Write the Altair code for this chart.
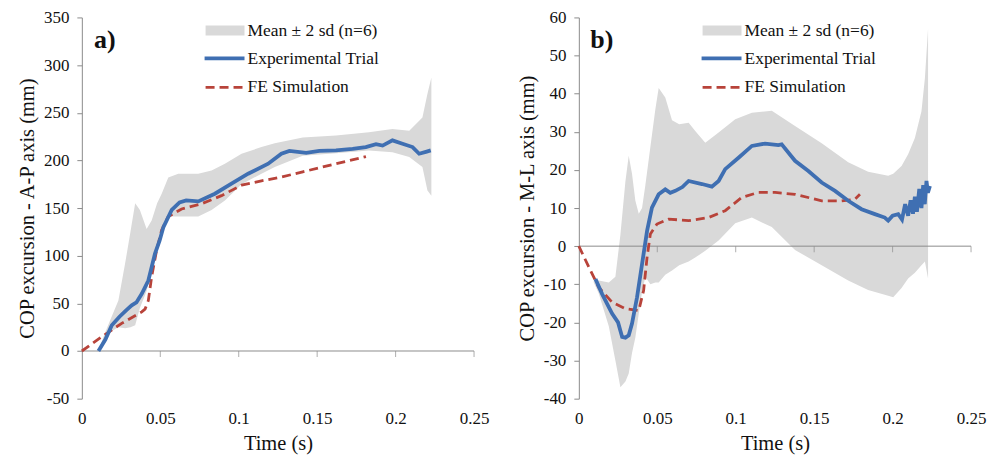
import altair as alt
import pandas as pd

# ---------------- Panel a) A-P axis ----------------
exp_t_ap = [0.0106, 0.0150, 0.0191, 0.0240, 0.0284, 0.0318, 0.0348, 0.0382, 0.0424, 0.0466,
            0.0496, 0.0520, 0.0573, 0.0623, 0.0665, 0.0742, 0.0848, 0.0954, 0.1060, 0.1188,
            0.1272, 0.1323, 0.1430, 0.1514, 0.1620, 0.1726, 0.1810, 0.1875, 0.1917, 0.1980,
            0.2044, 0.2108, 0.2150, 0.2193, 0.2224]
exp_v_ap = [0, 12, 27, 36, 43, 48, 51, 60, 74, 102,
            116, 130, 148, 156, 158, 157, 165, 175.5, 186, 196.5,
            207, 210, 208, 210, 210.5, 212, 214, 217, 215.5, 221,
            217.5, 214, 207, 209, 210.5]

fe_t_ap = [0, 0.0127, 0.0254, 0.0382, 0.0403, 0.0424, 0.0445, 0.0477, 0.0509, 0.0551,
           0.0636, 0.0763, 0.0890, 0.1018, 0.1145, 0.1272, 0.1408, 0.1620, 0.1811]
fe_v_ap = [0, 15, 29, 41, 44, 53, 78, 106, 127, 141,
           149, 154.5, 163, 174, 178.5, 182.5, 188, 196.5, 204]

band_t_ap = [0.0106, 0.0150, 0.0180, 0.0233, 0.0276, 0.0310, 0.0340, 0.0370, 0.0413, 0.0445,
             0.0480, 0.0509, 0.0551, 0.0615, 0.0742, 0.0827, 0.0912, 0.1018, 0.1145, 0.1230,
             0.1408, 0.1620, 0.1830, 0.1980, 0.2087, 0.2171, 0.2203, 0.2228]
band_hi_ap = [1, 20, 32, 53, 92, 125, 155, 148, 128, 137,
              155, 165, 182, 186, 186, 189.5, 196.5, 207, 214, 218,
              224, 226, 229.5, 233, 231, 245, 270, 287]
band_lo_ap = [0, 12, 20, 25, 24, 25, 27, 45, 63, 85,
              105, 120, 141, 141, 141, 148, 158, 175, 186, 193,
              205, 207.5, 210.5, 208.5, 203.5, 193, 168.5, 163]

# ---------------- Panel b) M-L axis ----------------
exp_t_ml = [0.0106, 0.0148, 0.0212, 0.0250, 0.0276, 0.0297, 0.0318, 0.0339, 0.0371, 0.0403,
            0.0435, 0.0466, 0.0509, 0.0551, 0.0583, 0.0615, 0.0660, 0.0700, 0.0785, 0.0848,
            0.0891, 0.0933, 0.1018, 0.1103, 0.1187, 0.1272, 0.1293, 0.1378, 0.1463, 0.1548,
            0.1633, 0.1717, 0.1802, 0.1887, 0.1950, 0.1972, 0.2000, 0.2036, 0.2060, 0.2080,
            0.2099, 0.2115, 0.2130, 0.2142, 0.2155, 0.2170, 0.2184, 0.2195, 0.2205, 0.2216,
            0.2225, 0.2238]
exp_v_ml = [-8.6, -12.5, -17.7, -20, -23.8, -24, -23.4, -20.3, -13.4, -4.7,
            4, 10.1, 13.6, 14.9, 14, 14.5, 15.5, 17.1, 16.3, 15.6,
            17.1, 20.2, 23.2, 26.3, 26.9, 26.5, 26.7, 22.4, 19.7, 16.7,
            14.5, 11.9, 9.7, 8.4, 7.5, 6.7, 8, 8.4, 7, 11,
            8, 12, 8.5, 13, 9, 15, 10, 16, 11, 17.1,
            14, 15.8]

fe_t_ml = [0, 0.0064, 0.0127, 0.0212, 0.0297, 0.0382, 0.0413, 0.0435, 0.0456, 0.0498,
           0.0573, 0.0700, 0.0827, 0.0933, 0.1039, 0.1145, 0.1251, 0.1378, 0.1548, 0.1675,
           0.1760, 0.1792]
fe_v_ml = [0, -5.5, -10.8, -14.7, -16.4, -16.9, -11.6, -2.9, 3.2, 5.8,
           7.1, 6.7, 7.5, 9.3, 12.8, 14.1, 14.1, 13.6, 11.9, 11.9,
           12.3, 13.6]

band_t_ml = [0.0095, 0.0127, 0.0191, 0.0233, 0.0265, 0.0297, 0.0318, 0.0339, 0.0360, 0.0382,
             0.0403, 0.0424, 0.0456, 0.0488, 0.0509, 0.0551, 0.0594, 0.0640, 0.0700, 0.0742,
             0.0806, 0.0891, 0.0997, 0.1103, 0.1230, 0.1378, 0.1548, 0.1717, 0.1844, 0.1972,
             0.2004, 0.2057, 0.2099, 0.2142, 0.2184, 0.2206, 0.2226]
band_hi_ml = [-8, -9, -9.5, -8, 3, 17, 23.7, 19, 12, 8.5,
              10, 16, 26, 36, 41.5, 39, 33, 32, 32.4, 30.2,
              27.1, 29.8, 33.3, 35, 35.5, 31.5, 27, 22, 19.5, 18.5,
              19, 21, 24.1, 28.4, 35.4, 44.1, 57]
band_lo_ml = [-9.5, -12.4, -21, -30, -37, -35.5, -33.4, -28, -24, -17.7,
              -12, -8, -10, -9.5, -9.5, -7.5, -6.4, -5, -4, -3,
              -1.2, 1.5, 6, 7.5, 5, -1, -5, -9, -11.5, -13,
              -13.4, -11, -8.5, -7, -5, -4, -8.5]

x_ticks = [0, 0.05, 0.1, 0.15, 0.2, 0.25]
x_inner_ticks = [0.05, 0.1, 0.15, 0.2, 0.25]
legend_labels = ["Mean \u00b1 2 sd (n=6)", "Experimental Trial", "FE Simulation"]

FONT = "Liberation Serif"
BAND = "#d9d9d9"
BLUE = "#3f6fb2"
RED = "#b8433a"
AXIS = "#8c8c8c"
W, H = 393, 382


def panel(bt, blo, bhi, et, ev, ft, fv, ydom, yvals, ytitle, letter):
    xs = alt.Scale(domain=[0, 0.25], nice=False, zero=False)
    ys = alt.Scale(domain=ydom, nice=False, zero=False)
    xaxis = alt.Axis(values=x_ticks, format="~g", domain=False, ticks=False, tickSize=0,
                     grid=False, labelPadding=12, labelOverlap=False, labelFlush=False,
                     title="Time (s)", titlePadding=7)
    yaxis = alt.Axis(values=yvals, grid=False, domainColor=AXIS, tickColor=AXIS, tickSize=5,
                     labelPadding=8, labelOverlap=False, labelFlush=False,
                     title=ytitle, titlePadding=6,
                     labelExpr="datum.value < 0 ? '-' + abs(datum.value) : '' + datum.value")

    def X(f):
        return alt.X(f, scale=xs, axis=xaxis, title="Time (s)")

    def Y(f):
        return alt.Y(f, scale=ys, axis=yaxis, title=ytitle)

    band_df = pd.DataFrame({"t": bt, "lo": blo, "hi": bhi})
    exp_df = pd.DataFrame({"t": et, "v": ev})
    fe_df = pd.DataFrame({"t": ft, "v": fv})
    tick_df = pd.DataFrame({"t": x_inner_ticks})
    one = pd.DataFrame({"k": [0]})

    band = alt.Chart(band_df).mark_area(color=BAND, opacity=1).encode(
        x=X("t:Q"), y=Y("lo:Q"), y2="hi:Q",
    )
    zero = alt.Chart(one).mark_rule(color=AXIS, strokeWidth=1).encode(y=Y("k:Q"))
    ticks = alt.Chart(tick_df).mark_tick(color=AXIS, orient="vertical", size=6,
                                         thickness=1, yOffset=3).encode(
        x=X("t:Q"), y=Y("k:Q"),
    ).transform_calculate(k="0")
    fe = alt.Chart(fe_df).mark_line(color=RED, strokeWidth=2.8, strokeDash=[9, 5]).encode(
        x=X("t:Q"), y=Y("v:Q")
    )
    exp = alt.Chart(exp_df).mark_line(color=BLUE, strokeWidth=3.8).encode(
        x=X("t:Q"), y=Y("v:Q")
    )

    # legend (drawn in the plot, upper area)
    leg_rect = alt.Chart(one).mark_rect(color=BAND).encode(
        x=alt.value(124), x2=alt.value(163), y=alt.value(8), y2=alt.value(18))
    leg_blue = alt.Chart(one).mark_rule(color=BLUE, strokeWidth=3.8).encode(
        x=alt.value(123), x2=alt.value(163), y=alt.value(41))
    leg_red = alt.Chart(one).mark_rule(color=RED, strokeWidth=2.8, strokeDash=[9, 5]).encode(
        x=alt.value(124), x2=alt.value(163), y=alt.value(70))
    leg_texts = []
    for lab, py in zip(legend_labels, [14, 42, 70]):
        leg_texts.append(
            alt.Chart(one).mark_text(font=FONT, fontSize=17.5, align="left", baseline="middle",
                                     color="#111111", text=lab).encode(
                x=alt.value(166), y=alt.value(py))
        )
    letter_txt = alt.Chart(one).mark_text(font=FONT, fontSize=26, fontWeight="bold",
                                          align="center", baseline="middle",
                                          color="#111111", text=letter).encode(
        x=alt.value(23), y=alt.value(23))

    return alt.layer(band, zero, ticks, fe, exp, leg_rect, leg_blue, leg_red,
                     *leg_texts, letter_txt).properties(width=W, height=H)


left = panel(band_t_ap, band_lo_ap, band_hi_ap, exp_t_ap, exp_v_ap, fe_t_ap, fe_v_ap,
             [-50, 350], [-50, 0, 50, 100, 150, 200, 250, 300, 350],
             "COP excursion - A-P axis (mm)", "a)")
right = panel(band_t_ml, band_lo_ml, band_hi_ml, exp_t_ml, exp_v_ml, fe_t_ml, fe_v_ml,
              [-40, 60], [-40, -30, -20, -10, 0, 10, 20, 30, 40, 50, 60],
              "COP excursion - M-L axis (mm)", "b)")

chart = alt.hconcat(left, right, spacing=105, bounds="flush").properties(
    padding={"left": 17, "top": 8, "right": 5, "bottom": 5}
).configure(background="white").configure_view(stroke=None).configure_axis(
    labelFont=FONT, labelFontSize=17, labelColor="#111111",
    titleFont=FONT, titleFontSize=20.5, titleFontWeight="normal", titleColor="#111111",
)

chart.save("out.html", embed_options={"renderer": "svg", "actions": False})
